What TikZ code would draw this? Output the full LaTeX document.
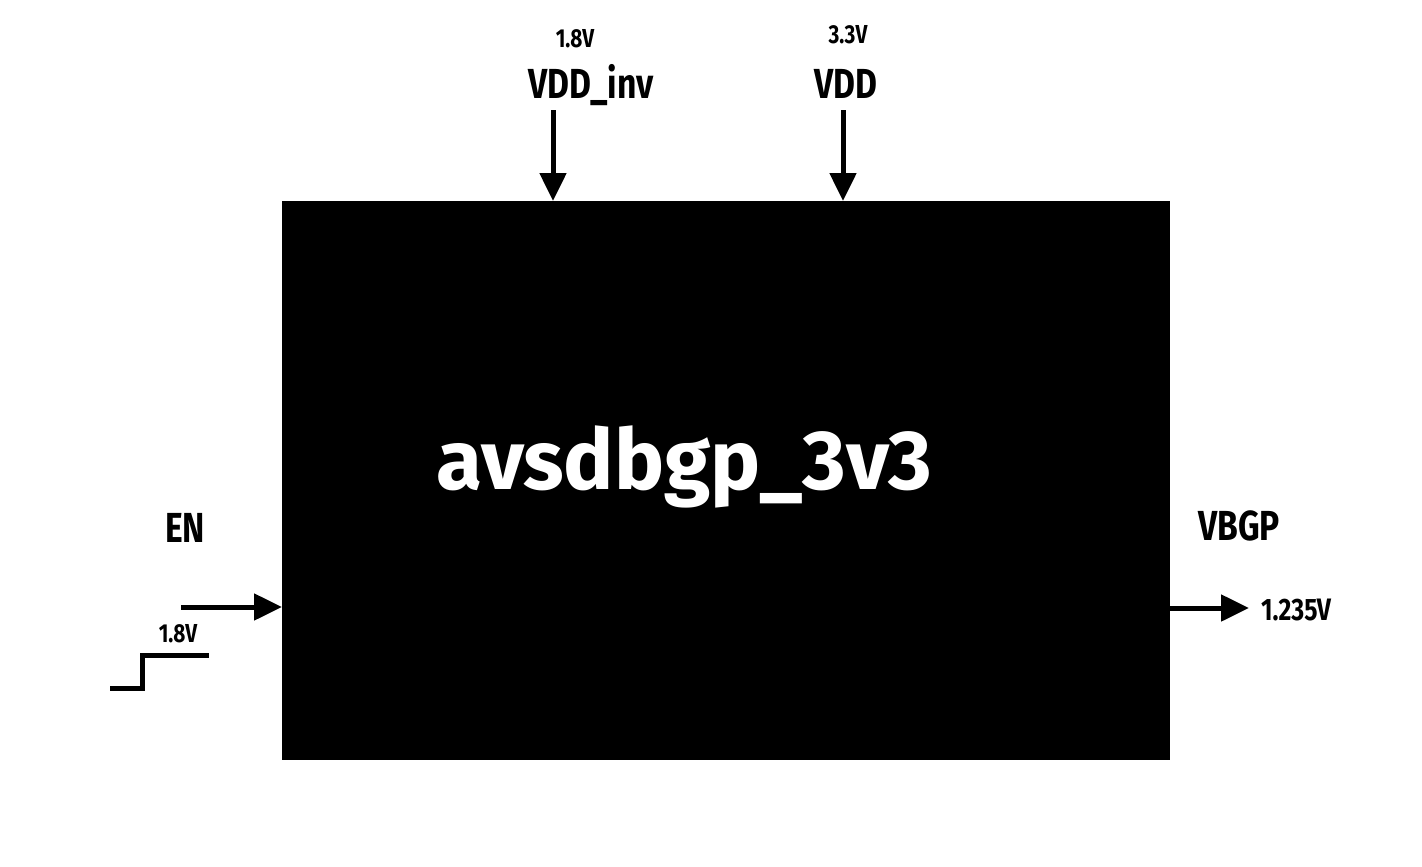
\documentclass[tikz,border=0pt]{standalone}
\usepackage{fontspec}
\setmainfont{Fira Sans}[UprightFont=* Bold, FakeStretch=0.8]
\newfontfamily\mainlbl{Fira Sans}[UprightFont=* Bold]
\usetikzlibrary{arrows.meta}
\begin{document}
\begin{tikzpicture}[x=1pt,y=-1pt,
  wire/.style={line width=5pt,-{Triangle[width=26pt,length=28pt]}},
  big/.style={font=\fontsize{42}{42}\selectfont,anchor=base,inner sep=0pt},
  small/.style={font=\fontsize{26}{26}\selectfont,anchor=base,inner sep=0pt}]
\useasboundingbox (0,0) rectangle (1422,867);
\fill[white] (0,0) rectangle (1422,867);
\node[fill=black,minimum width=888pt,minimum height=559pt,inner sep=0pt,anchor=north west] (blk) at (282,201) {};
\node[white,font=\mainlbl\fontsize{84}{84}\selectfont,anchor=base,inner sep=0pt] (name) at (684,489) {avsdbgp\_3v3};
% top inputs
\coordinate (vinvs) at (553,110);
\coordinate (vinve) at (553,201);
\coordinate (vdds) at (843,110);
\coordinate (vdde) at (843,201);
\draw[wire] (vinvs) -- (vinve);
\draw[wire] (vdds) -- (vdde);
\node[small] (v18) at (575,48) {1.8V};
\node[big] (vinv) at (591,99) {VDD\_inv};
\node[small] (v33) at (848,44) {3.3V};
\node[big] (vdd) at (846,99) {VDD};
% EN
\coordinate (ens) at (181,607);
\coordinate (ene) at (282,607);
\draw[wire] (ens) -- (ene);
\node[big] (en) at (185,542) {EN};
\node[small] (en18) at (178,642) {1.8V};
\coordinate (s1) at (110,688);
\coordinate (s2) at (142,688);
\coordinate (s3) at (142,655);
\coordinate (s4) at (209,655);
\draw[line width=5pt] (s1) -- (s2) -- (s3) -- (s4);
% VBGP
\coordinate (vbs) at (1170,608);
\coordinate (vbe) at (1249,608);
\draw[wire] (vbs) -- (vbe);
\node[big] (vbgp) at (1239,540) {VBGP};
\node[small,font=\fontsize{31}{31}\selectfont,anchor=base west] (vout) at (1261,620) {1.235V};
\end{tikzpicture}
\end{document}
